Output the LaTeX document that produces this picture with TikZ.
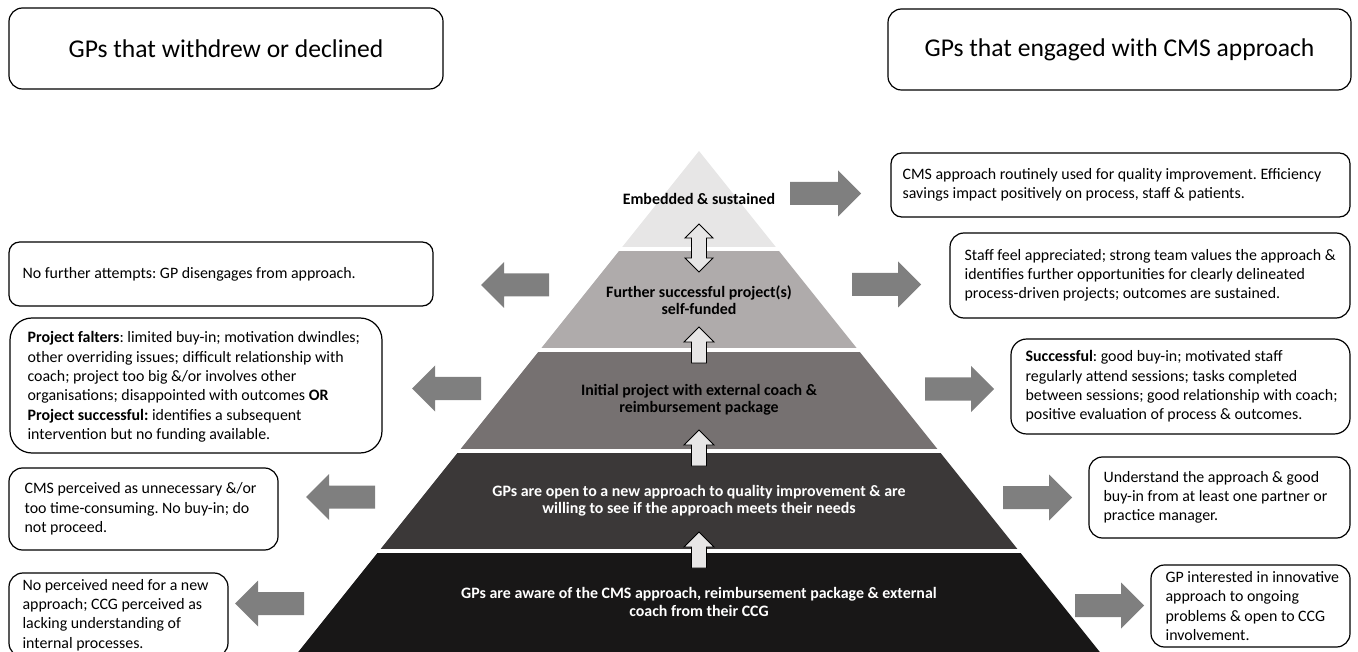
\documentclass[tikz,border=0pt]{standalone}
\usepackage{fontspec}
\setmainfont{Carlito}
\frenchspacing
\definecolor{lay5}{HTML}{E7E6E6}
\definecolor{lay4}{HTML}{AFABAB}
\definecolor{lay3}{HTML}{767171}
\definecolor{lay2}{HTML}{3B3838}
\definecolor{lay1}{HTML}{181717}
\definecolor{arrowgray}{HTML}{7F7F7F}
\definecolor{upfill}{HTML}{E7E6E6}
\newcommand{\boxfont}{\fontsize{15.9}{19.3}\selectfont}
\newcommand{\titlefont}{\fontsize{25.6}{30}\selectfont}
\newcommand{\layfont}{\fontsize{15.9}{17.5}\selectfont\bfseries}
\newcommand{\grArrowR}[3]{%
  \fill[arrowgray] (#1,{#3-11.5}) -- ({#2-23},{#3-11.5}) -- ({#2-23},{#3-23}) -- (#2,#3)
    -- ({#2-23},{#3+23}) -- ({#2-23},{#3+11.5}) -- (#1,{#3+11.5}) -- cycle;}
\newcommand{\grArrowL}[3]{%
  \fill[arrowgray] (#1,{#3-11.5}) -- ({#2+23},{#3-11.5}) -- ({#2+23},{#3-23}) -- (#2,#3)
    -- ({#2+23},{#3+23}) -- ({#2+23},{#3+11.5}) -- (#1,{#3+11.5}) -- cycle;}
\newcommand{\upArrowW}[3]{%
  \filldraw[uparrowstyle] (#1,#2) -- ({#1+15},{#2+15}) -- ({#1+7.5},{#2+15}) -- ({#1+7.5},#3)
    -- ({#1-7.5},#3) -- ({#1-7.5},{#2+15}) -- ({#1-15},{#2+15}) -- cycle;}
\newcommand{\dblArrowW}[3]{%
  \filldraw[uparrowstyle] (#1,#2) -- ({#1+14},{#2+14}) -- ({#1+7.5},{#2+14}) -- ({#1+7.5},{#3-14})
    -- ({#1+14},{#3-14}) -- (#1,#3) -- ({#1-14},{#3-14}) -- ({#1-7.5},{#3-14})
    -- ({#1-7.5},{#2+14}) -- ({#1-14},{#2+14}) -- cycle;}
\begin{document}
\begin{tikzpicture}[x=1pt,y=-1pt,
  box/.style={draw=black, line width=1.2pt, fill=white, inner sep=0pt},
  btext/.style={anchor=west, align=left, inner sep=0pt, font=\boxfont},
  ttext/.style={font=\titlefont},
  laytext/.style={align=center, inner sep=0pt, font=\layfont},
  uparrowstyle/.style={fill=upfill, draw=black, line width=0.9pt, line join=miter}]
\useasboundingbox (0,0) rectangle (1358,652);
\clip (0,0) rectangle (1358,652);

% pyramid
\begin{scope}
\clip (699,151) -- (298.2,652) -- (1099.8,652) -- cycle;
\fill[lay5] (250,140) rectangle (1150,247);
\fill[lay4] (250,251) rectangle (1150,348);
\fill[lay3] (250,352) rectangle (1150,449);
\fill[lay2] (250,453) rectangle (1150,549);
\fill[lay1] (250,553) rectangle (1150,660);
\end{scope}

\node[laytext] (P5) at (699,199) {Embedded \& sustained};
\node[laytext] (P4) at (699,300) {Further successful project(s)\\self-funded};
\node[laytext] (P3) at (699,400) {Initial project with external coach \&\\reimbursement package};
\node[laytext, text=white] (P2) at (699,501) {GPs are open to a new approach to quality improvement \& are\\willing to see if the approach meets their needs};
\node[laytext, text=white] (P1) at (699,602) {GPs are aware of the CMS approach, reimbursement package \& external\\coach from their CCG};

% up arrows
\dblArrowW{699}{224}{272}
\upArrowW{699}{327}{363}
\upArrowW{699}{430}{466}
\upArrowW{699}{532}{568}

% gray arrows right
\grArrowR{790}{861}{193.5}
\grArrowR{852}{921}{284.5}
\grArrowR{925}{994}{389}
\grArrowR{1003}{1072}{497.5}
\grArrowR{1075}{1144}{605.5}
% gray arrows left
\grArrowL{549}{481}{285}
\grArrowL{481}{412}{388.5}
\grArrowL{375}{306}{497}
\grArrowL{304}{235}{603.5}

% title boxes
\node[box, rounded corners=13.5pt, minimum width=434, minimum height=81, ttext] (TL) at (226,48.5) {GPs that withdrew or declined};
\node[box, rounded corners=13.5pt, minimum width=463, minimum height=81, ttext] (TR) at (1119.5,49.5) {GPs that engaged with CMS approach};

% right boxes
\node[box, rounded corners=10.7pt, minimum width=459, minimum height=64] (R1) at (1120.5,185) {};
\node[btext] (R1t) at ([xshift=12pt]R1.west) {CMS approach routinely used for quality improvement. Efficiency\\savings impact positively on process, staff \& patients.};
\node[box, rounded corners=14pt, minimum width=400, minimum height=85] (R2) at (1150,275.5) {};
\node[btext] (R2t) at ([xshift=15pt]R2.west) {Staff feel appreciated; strong team values the approach \&\\identifies further opportunities for clearly delineated\\process-driven projects; outcomes are sustained.};
\node[box, rounded corners=15.8pt, minimum width=339, minimum height=95] (R3) at (1180.5,386.5) {};
\node[btext] (R3t) at ([xshift=15pt]R3.west) {\textbf{Successful}: good buy-in; motivated staff\\regularly attend sessions; tasks completed\\between sessions; good relationship with coach;\\positive evaluation of process \& outcomes.};
\node[box, rounded corners=13.5pt, minimum width=261, minimum height=81] (R4) at (1219.5,497.5) {};
\node[btext] (R4t) at ([xshift=15pt]R4.west) {Understand the approach \& good\\buy-in from at least one partner or\\practice manager.};
\node[box, rounded corners=13.5pt, minimum width=199, minimum height=82] (R5) at (1250.5,606) {};
\node[btext] (R5t) at ([xshift=15pt]R5.west) {GP interested in innovative\\approach to ongoing\\problems \& open to CCG\\involvement.};

% left boxes
\node[box, rounded corners=10.7pt, minimum width=424, minimum height=64] (L1) at (221,274) {};
\node[btext] (L1t) at ([xshift=14pt]L1.west) {No further attempts: GP disengages from approach.};
\node[box, rounded corners=22pt, minimum width=372, minimum height=135] (L2) at (196,385.5) {};
\node[btext] (L2t) at ([xshift=18pt,yshift=-1.5pt]L2.west) {\textbf{Project falters}: limited buy-in; motivation dwindles;\\other overriding issues; difficult relationship with\\coach; project too big \&/or involves other\\organisations; disappointed with outcomes \textbf{OR}\\\textbf{Project successful:} identifies a subsequent\\intervention but no funding available.};
\node[box, rounded corners=13.5pt, minimum width=269, minimum height=82] (L3) at (143.5,509) {};
\node[btext] (L3t) at ([xshift=16pt]L3.west) {CMS perceived as unnecessary \&/or\\too time-consuming. No buy-in; do\\not proceed.};
\node[box, rounded corners=14pt, minimum width=219, minimum height=84] (L4) at (118.5,615) {};
\node[btext] (L4t) at ([xshift=14pt]L4.west) {No perceived need for a new\\approach; CCG perceived as\\lacking understanding of\\internal processes.};
\end{tikzpicture}
\end{document}
